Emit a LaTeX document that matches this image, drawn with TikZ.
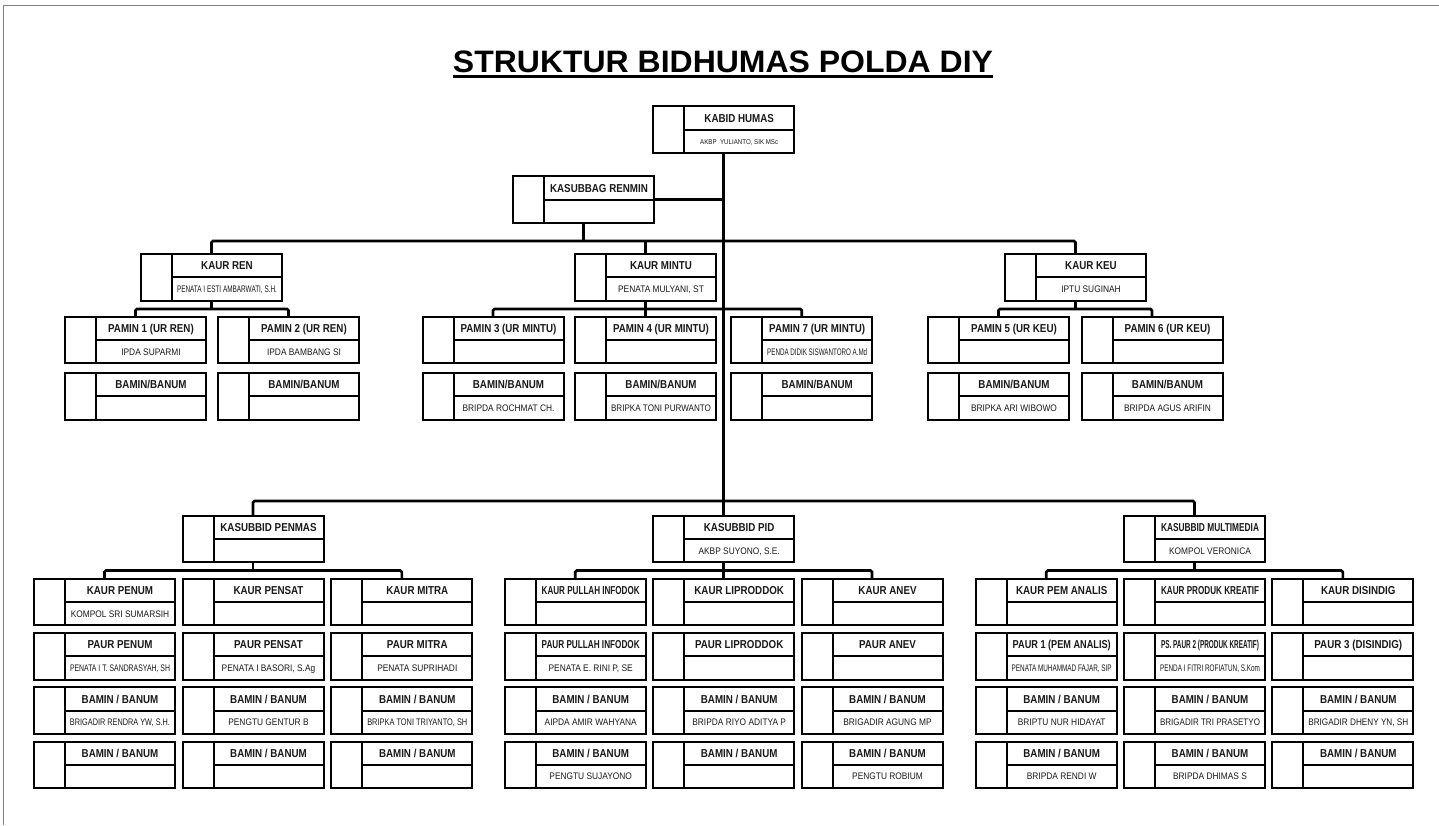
\documentclass[tikz,border=0pt]{standalone}
\usepackage{fontspec}
\setmainfont{Liberation Sans}
\newfontfamily\hdf[FakeStretch=0.85]{Liberation Sans}
\newfontfamily\nmf[FakeStretch=0.88]{Liberation Sans}
\newfontfamily\titf[FakeStretch=0.85]{Liberation Sans}
\usetikzlibrary{calc}
\newsavebox\fitbox
\newcommand\fitt[2]{\sbox\fitbox{#2}\ifdim\wd\fitbox>#1\relax\resizebox{#1}{\ht\fitbox}{\usebox\fitbox}\else\usebox\fitbox\fi}
\newcommand\obox[5]{%
  \node[obox] (#1) at (#2,#3) {};
  \draw[divline] ([xshift=31pt]#1.north west) -- ([xshift=31pt]#1.south west);
  \draw[divline] ([xshift=31pt]#1.west) -- (#1.east);
  \node[ttl] (#1-t) at ($([xshift=31pt]#1.north west)!0.5!(#1.east)$) {\fitt{98pt}{#4}};
  \def\pertmp{#5}\ifx\pertmp\empty\else
  \node[nm] (#1-n) at ($([xshift=31pt]#1.west)!0.5!(#1.south east)$) {\fitt{100pt}{#5}};\fi}
\begin{document}
\begin{tikzpicture}[x=1pt,y=-1pt,
  obox/.style={draw, line width=2pt, minimum width=141pt, minimum height=46.5pt, inner sep=0pt, outer sep=0pt},
  divline/.style={line width=2pt},
  conn/.style={line width=2.6pt, rounded corners=1.5pt},
  ttl/.style={font=\hdf\bfseries\fontsize{11.5}{12}\selectfont, text=black!90, inner sep=0pt, text height=8.3pt, text depth=0pt},
  nm/.style={font=\nmf\fontsize{9.5}{10}\selectfont, text=black!90, inner sep=0pt, text height=6.8pt, text depth=0pt}]
\useasboundingbox (0,0) rectangle (1439,825);
\fill[white] (0,0) rectangle (1439,825);
\draw[gray, line width=1pt] (3,825) -- (3,5) -- (1439,5);

\node[font=\titf\bfseries\fontsize{31}{31}\selectfont, inner sep=0pt, text height=22pt, text depth=0pt] (title) at (723,61) {\resizebox{540pt}{\height}{STRUKTUR BIDHUMAS POLDA DIY}};
\draw[line width=2.6pt] ([yshift=-4.5pt]title.south west) -- ([yshift=-4.5pt]title.south east);

% top
\obox{kabid}{723.7}{129.5}{KABID HUMAS}{{\fontsize{7}{8}\selectfont AKBP\ \ YULIANTO, SIK MSc}}
\obox{renmin}{583.5}{199.5}{KASUBBAG RENMIN}{}
% row 1
\obox{kaurren}{211.5}{277.3}{KAUR REN}{PENATA I ESTI AMBARWATI, S.H.}
\obox{kaurmintu}{645.5}{277.3}{KAUR MINTU}{PENATA MULYANI, ST}
\obox{kaurkeu}{1075.5}{277.3}{KAUR KEU}{IPTU SUGINAH}
\obox{pamin1}{135.5}{340.2}{PAMIN 1 (UR REN)}{IPDA SUPARMI}
\obox{pamin2}{288.5}{340.2}{PAMIN 2 (UR REN)}{IPDA BAMBANG SI}
\obox{pamin3}{493}{340.2}{PAMIN 3 (UR MINTU)}{}
\obox{pamin4}{645.5}{340.2}{PAMIN 4 (UR MINTU)}{}
\obox{pamin7}{801.7}{340.2}{PAMIN 7 (UR MINTU)}{PENDA DIDIK SISWANTORO A.Md}
\obox{pamin5}{998.5}{340.2}{PAMIN 5 (UR KEU)}{}
\obox{pamin6}{1152}{340.2}{PAMIN 6 (UR KEU)}{}
\obox{bamin1}{135.5}{396.3}{BAMIN/BANUM}{}
\obox{bamin2}{288.5}{396.3}{BAMIN/BANUM}{}
\obox{bamin3}{493}{396.3}{BAMIN/BANUM}{BRIPDA ROCHMAT CH.}
\obox{bamin4}{645.5}{396.3}{BAMIN/BANUM}{BRIPKA TONI PURWANTO}
\obox{bamin7}{801.7}{396.3}{BAMIN/BANUM}{}
\obox{bamin5}{998.5}{396.3}{BAMIN/BANUM}{BRIPKA ARI WIBOWO}
\obox{bamin6}{1152}{396.3}{BAMIN/BANUM}{BRIPDA AGUS ARIFIN}

% bottom
\obox{penmas}{253}{539}{KASUBBID PENMAS}{}
\obox{pid}{723.7}{539}{KASUBBID PID}{AKBP SUYONO, S.E.}
\obox{multimedia}{1194.5}{539}{KASUBBID MULTIMEDIA}{KOMPOL VERONICA}

\obox{c1a}{104.5}{602}{KAUR PENUM}{KOMPOL SRI SUMARSIH}
\obox{c1b}{104.5}{656.3}{PAUR PENUM}{PENATA I T. SANDRASYAH, SH}
\obox{c1c}{104.5}{710.6}{BAMIN / BANUM}{BRIGADIR RENDRA YW, S.H.}
\obox{c1d}{104.5}{764.9}{BAMIN / BANUM}{}
\obox{c2a}{253}{602}{KAUR PENSAT}{}
\obox{c2b}{253}{656.3}{PAUR PENSAT}{PENATA I BASORI, S.Ag}
\obox{c2c}{253}{710.6}{BAMIN / BANUM}{PENGTU GENTUR B}
\obox{c2d}{253}{764.9}{BAMIN / BANUM}{}
\obox{c3a}{401.8}{602}{KAUR MITRA}{}
\obox{c3b}{401.8}{656.3}{PAUR MITRA}{PENATA SUPRIHADI}
\obox{c3c}{401.8}{710.6}{BAMIN / BANUM}{BRIPKA TONI TRIYANTO, SH}
\obox{c3d}{401.8}{764.9}{BAMIN / BANUM}{}
\obox{c4a}{575.2}{602}{KAUR PULLAH INFODOK}{}
\obox{c4b}{575.2}{656.3}{PAUR PULLAH INFODOK}{PENATA E. RINI P, SE}
\obox{c4c}{575.2}{710.6}{BAMIN / BANUM}{AIPDA AMIR WAHYANA}
\obox{c4d}{575.2}{764.9}{BAMIN / BANUM}{PENGTU SUJAYONO}
\obox{c5a}{723.7}{602}{KAUR LIPRODDOK}{}
\obox{c5b}{723.7}{656.3}{PAUR LIPRODDOK}{}
\obox{c5c}{723.7}{710.6}{BAMIN / BANUM}{BRIPDA RIYO ADITYA P}
\obox{c5d}{723.7}{764.9}{BAMIN / BANUM}{}
\obox{c6a}{872}{602}{KAUR ANEV}{}
\obox{c6b}{872}{656.3}{PAUR ANEV}{}
\obox{c6c}{872}{710.6}{BAMIN / BANUM}{BRIGADIR AGUNG MP}
\obox{c6d}{872}{764.9}{BAMIN / BANUM}{PENGTU ROBIUM}
\obox{c7a}{1046.2}{602}{KAUR PEM ANALIS}{}
\obox{c7b}{1046.2}{656.3}{PAUR 1 (PEM ANALIS)}{PENATA MUHAMMAD FAJAR, SIP}
\obox{c7c}{1046.2}{710.6}{BAMIN / BANUM}{BRIPTU NUR HIDAYAT}
\obox{c7d}{1046.2}{764.9}{BAMIN / BANUM}{BRIPDA RENDI W}
\obox{c8a}{1194.5}{602}{KAUR PRODUK KREATIF}{}
\obox{c8b}{1194.5}{656.3}{PS. PAUR 2 (PRODUK KREATIF)}{PENDA I FITRI ROFIATUN, S.Kom}
\obox{c8c}{1194.5}{710.6}{BAMIN / BANUM}{BRIGADIR TRI PRASETYO}
\obox{c8d}{1194.5}{764.9}{BAMIN / BANUM}{BRIPDA DHIMAS S}
\obox{c9a}{1342.8}{602}{KAUR DISINDIG}{}
\obox{c9b}{1342.8}{656.3}{PAUR 3 (DISINDIG)}{}
\obox{c9c}{1342.8}{710.6}{BAMIN / BANUM}{BRIGADIR DHENY YN, SH}
\obox{c9d}{1342.8}{764.9}{BAMIN / BANUM}{}

% connectors
\coordinate (b1) at (723.7,241);
\coordinate (b2) at (723.7,501);
\coordinate (s1) at (211.5,309);
\coordinate (s2) at (645.5,309);
\coordinate (s3) at (1075.5,309);
\coordinate (s4) at (253,570.5);
\coordinate (s5) at (723.7,570.5);
\coordinate (s6) at (1194.5,570.5);
\draw[conn] (kabid.south) -- (pid.north);
\draw[conn] (renmin.east) -- (renmin.east -| kabid.south);
\draw[conn] (renmin.south) -- (renmin.south |- b1);
\draw[conn] (kaurren.north) |- (b1) -| (kaurkeu.north);
\draw[conn] (kaurmintu.north) -- (kaurmintu.north |- b1);
\draw[conn] (kaurren.south) -- (s1);
\draw[conn] (pamin1.north) |- (s1) -| (pamin2.north);
\draw[conn] (kaurmintu.south) -- (pamin4.north);
\draw[conn] (pamin3.north) |- (s2) -| (pamin7.north);
\draw[conn] (kaurkeu.south) -- (s3);
\draw[conn] (pamin5.north) |- (s3) -| (pamin6.north);
\draw[conn] (penmas.north) |- (b2) -| (multimedia.north);
\draw[conn] (penmas.south) -- (s4);
\draw[conn] (c1a.north) |- (s4) -| (c3a.north);
\draw[conn] (pid.south) -- (c5a.north);
\draw[conn] (c4a.north) |- (s5) -| (c6a.north);
\draw[conn] (multimedia.south) -- (s6);
\draw[conn] (c7a.north) |- (s6) -| (c9a.north);
\end{tikzpicture}
\end{document}
